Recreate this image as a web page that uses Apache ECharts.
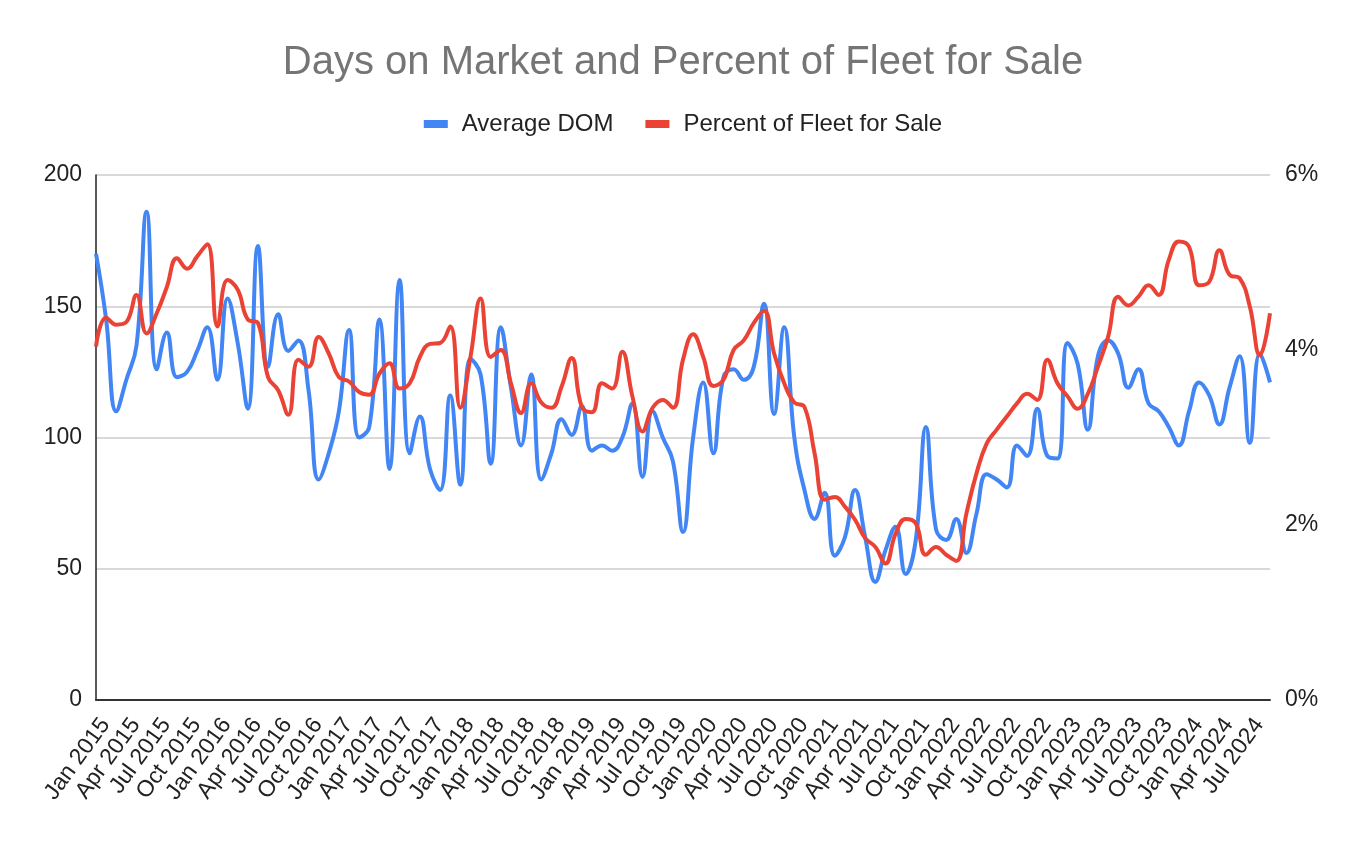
<!DOCTYPE html>
<html>
<head>
<meta charset="utf-8">
<script src="https://cdn.jsdelivr.net/npm/echarts@6/dist/echarts.min.js"></script>
<style>
html,body{margin:0;padding:0;background:#fff;}
#chart{width:1366px;height:846px;}
</style>
</head>
<body>
<div id="chart"></div>
<script>
const title = 'Days on Market and Percent of Fleet for Sale';
const seriesNames = ['Average DOM', 'Percent of Fleet for Sale'];

const categories = [
  'Jan 2015','Feb 2015','Mar 2015','Apr 2015','May 2015','Jun 2015','Jul 2015','Aug 2015','Sep 2015','Oct 2015','Nov 2015','Dec 2015',
  'Jan 2016','Feb 2016','Mar 2016','Apr 2016','May 2016','Jun 2016','Jul 2016','Aug 2016','Sep 2016','Oct 2016','Nov 2016','Dec 2016',
  'Jan 2017','Feb 2017','Mar 2017','Apr 2017','May 2017','Jun 2017','Jul 2017','Aug 2017','Sep 2017','Oct 2017','Nov 2017','Dec 2017',
  'Jan 2018','Feb 2018','Mar 2018','Apr 2018','May 2018','Jun 2018','Jul 2018','Aug 2018','Sep 2018','Oct 2018','Nov 2018','Dec 2018',
  'Jan 2019','Feb 2019','Mar 2019','Apr 2019','May 2019','Jun 2019','Jul 2019','Aug 2019','Sep 2019','Oct 2019','Nov 2019','Dec 2019',
  'Jan 2020','Feb 2020','Mar 2020','Apr 2020','May 2020','Jun 2020','Jul 2020','Aug 2020','Sep 2020','Oct 2020','Nov 2020','Dec 2020',
  'Jan 2021','Feb 2021','Mar 2021','Apr 2021','May 2021','Jun 2021','Jul 2021','Aug 2021','Sep 2021','Oct 2021','Nov 2021','Dec 2021',
  'Jan 2022','Feb 2022','Mar 2022','Apr 2022','May 2022','Jun 2022','Jul 2022','Aug 2022','Sep 2022','Oct 2022','Nov 2022','Dec 2022',
  'Jan 2023','Feb 2023','Mar 2023','Apr 2023','May 2023','Jun 2023','Jul 2023','Aug 2023','Sep 2023','Oct 2023','Nov 2023','Dec 2023',
  'Jan 2024','Feb 2024','Mar 2024','Apr 2024','May 2024','Jun 2024','Jul 2024','Aug 2024','Sep 2024'
];

const averageDOM = [
  170,145,110,122,135,186,126,140,123,125,133,142,
  122,153,136,111,173,127,147,133,137,118,84,94,
  110,141,100,104,145,88,160,94,108,88,80,116,
  82,130,124,90,142,119,97,124,84,94,107,101,
  112,95,97,95,100,113,85,110,100,91,64,100,
  121,94,123,126,122,127,151,109,142,100,80,69,
  79,55,62,80,62,45,57,66,48,61,104,65,
  61,69,56,71,86,84,81,97,93,111,93,92,
  136,128,103,131,137,132,119,126,113,110,104,97,
  110,121,116,105,119,131,98,132,121
];

const percentFleet = [
  4.04,4.37,4.29,4.32,4.63,4.19,4.42,4.72,5.05,4.93,5.07,5.21,
  4.27,4.80,4.69,4.35,4.31,3.69,3.54,3.26,3.89,3.81,4.15,3.96,
  3.69,3.64,3.52,3.49,3.73,3.85,3.56,3.62,3.92,4.07,4.08,4.27,
  3.34,3.92,4.59,3.92,4.00,3.62,3.28,3.62,3.40,3.34,3.58,3.91,
  3.35,3.29,3.62,3.56,3.98,3.47,3.07,3.34,3.43,3.34,3.89,4.18,
  3.92,3.59,3.66,4.00,4.11,4.31,4.45,3.96,3.62,3.40,3.35,2.82,
  2.29,2.32,2.21,2.06,1.85,1.75,1.56,1.90,2.07,2.02,1.66,1.75,
  1.66,1.59,2.13,2.59,2.93,3.09,3.24,3.39,3.50,3.43,3.89,3.62,
  3.47,3.33,3.50,3.81,4.15,4.61,4.51,4.61,4.74,4.63,5.03,5.24,
  5.18,4.74,4.78,5.14,4.86,4.82,4.50,3.94,4.42
];

const leftTicks = {min: 0, max: 200, interval: 50};
const rightTicks = {min: 0, max: 6, interval: 2};
const labelEvery = 3;

const FONT = '"Liberation Sans", Arial, Helvetica, sans-serif';
const chart = echarts.init(document.getElementById('chart'));
chart.setOption({
  animation: false,
  backgroundColor: '#ffffff',
  textStyle: {fontFamily: FONT},
  title: {
    text: title,
    left: 'center',
    top: 38,
    textStyle: {color: '#757575', fontSize: 40, fontWeight: 'normal', fontFamily: FONT}
  },
  legend: {
    top: 107,
    left: 'center',
    itemWidth: 24,
    itemHeight: 8,
    itemGap: 32,
    icon: 'rect',
    data: seriesNames,
    textStyle: {color: '#222', fontSize: 24, fontFamily: FONT, padding: [0, 0, 0, 9]}
  },
  grid: {left: 96, right: 96, top: 175, bottom: 146, containLabel: false},
  xAxis: {
    type: 'category',
    data: categories,
    boundaryGap: false,
    axisLine: {show: true, lineStyle: {color: '#333', width: 2}},
    axisTick: {show: false},
    splitLine: {show: false},
    axisLabel: {
      interval: 0,
      formatter: function (value, idx) { return idx % labelEvery === 0 ? value : ''; },
      hideOverlap: false,
      rotate: 54,
      margin: 14,
      verticalAlign: 'top',
      color: '#222',
      fontSize: 23,
      fontFamily: FONT
    }
  },
  yAxis: [
    {
      type: 'value',
      min: leftTicks.min, max: leftTicks.max, interval: leftTicks.interval,
      axisLine: {show: true, lineStyle: {color: '#222', width: 1.5}},
      axisTick: {show: false},
      splitLine: {show: true, lineStyle: {color: '#cccccc', width: 1.5}},
      axisLabel: {color: '#222', fontSize: 23, fontFamily: FONT, margin: 14}
    },
    {
      type: 'value',
      min: rightTicks.min, max: rightTicks.max, interval: rightTicks.interval,
      axisLine: {show: false},
      axisTick: {show: false},
      splitLine: {show: false},
      axisLabel: {color: '#222', fontSize: 23, fontFamily: FONT, margin: 15, formatter: '{value}%'}
    }
  ],
  series: [
    {
      name: seriesNames[0],
      type: 'line',
      data: averageDOM,
      yAxisIndex: 0,
      smooth: 0.45,
      showSymbol: false,
      symbol: 'none',
      lineStyle: {color: '#4285F4', width: 4},
      itemStyle: {color: '#4285F4'}
    },
    {
      name: seriesNames[1],
      type: 'line',
      data: percentFleet,
      yAxisIndex: 1,
      smooth: 0.45,
      showSymbol: false,
      symbol: 'none',
      lineStyle: {color: '#EA4335', width: 4},
      itemStyle: {color: '#EA4335'}
    }
  ]
});
</script>
</body>
</html>
